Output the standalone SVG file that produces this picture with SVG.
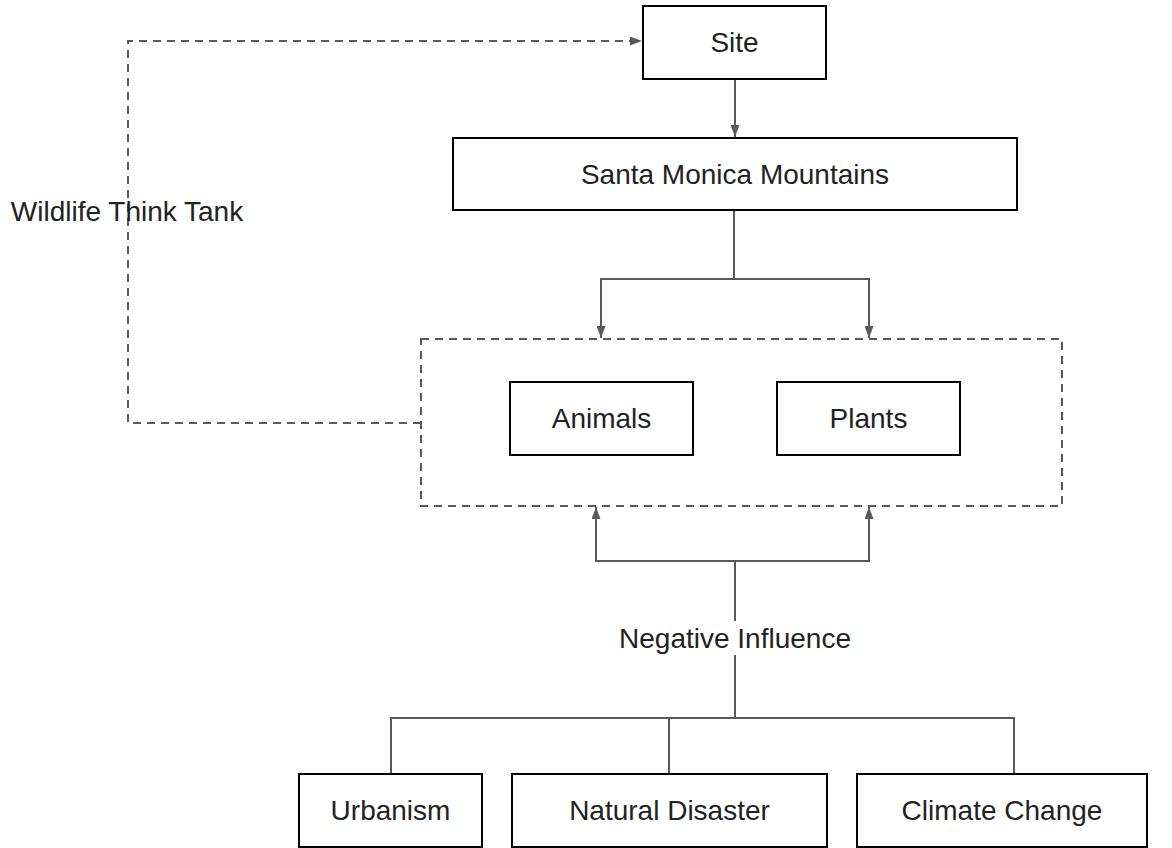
<svg xmlns="http://www.w3.org/2000/svg" width="1172" height="848" viewBox="0 0 1172 848">
<style>
.box{fill:#fff;stroke:#000;stroke-width:2}
.lbl{font-family:"Liberation Sans",Arial,sans-serif;font-size:28px;fill:#222;text-anchor:middle;dominant-baseline:central}
.ln{fill:none;stroke:#595959;stroke-width:2}
.dash{fill:none;stroke:#595959;stroke-width:2;stroke-dasharray:8,6}
</style>
<defs>
<marker id="arr" viewBox="0 0 12 9" refX="12" refY="4.5" markerWidth="12" markerHeight="9" orient="auto" markerUnits="userSpaceOnUse">
<path d="M0,0 L12,4.5 L0,9 z" fill="#595959"/>
</marker>
</defs>
<rect width="1172" height="848" fill="#fff"/>
<g id="connectors">
<path class="dash" d="M421,423 H128 V41 H642" marker-end="url(#arr)"/>
<path class="ln" d="M735,79 V137" marker-end="url(#arr)"/>
<path class="ln" d="M734,210 V279 H601 V338" marker-end="url(#arr)"/>
<path class="ln" d="M734,279 H869 V338" marker-end="url(#arr)"/>
<path class="ln" d="M735,621 V561 H596 V507" marker-end="url(#arr)"/>
<path class="ln" d="M735,561 H869 V507" marker-end="url(#arr)"/>
<path class="ln" d="M735,655 V718"/>
<path class="ln" d="M391,774 V718 H1014 V774"/>
<path class="ln" d="M669,718 V774"/>
</g>
<g id="group-box"><rect x="421" y="339" width="641" height="167" class="dash"/></g>
<g id="site"><rect class="box" x="643" y="6" width="183" height="73"/><text class="lbl" x="734.5" y="42.5">Site</text></g>
<g id="santa-monica"><rect class="box" x="453" y="138" width="564" height="72"/><text class="lbl" x="735" y="174">Santa Monica Mountains</text></g>
<g id="animals"><rect class="box" x="510" y="382" width="183" height="73"/><text class="lbl" x="601.5" y="418.5">Animals</text></g>
<g id="plants"><rect class="box" x="777" y="382" width="183" height="73"/><text class="lbl" x="868.5" y="418.5">Plants</text></g>
<g id="wildlife-label"><text class="lbl" x="127" y="211">Wildlife Think Tank</text></g>
<g id="negative-label"><text class="lbl" x="735" y="638">Negative Influence</text></g>
<g id="urbanism"><rect class="box" x="299" y="774" width="183" height="73"/><text class="lbl" x="390.5" y="810.5">Urbanism</text></g>
<g id="natural-disaster"><rect class="box" x="512" y="774" width="315" height="73"/><text class="lbl" x="669.5" y="810.5">Natural Disaster</text></g>
<g id="climate-change"><rect class="box" x="857" y="774" width="290" height="73"/><text class="lbl" x="1002" y="810.5">Climate Change</text></g>
</svg>
